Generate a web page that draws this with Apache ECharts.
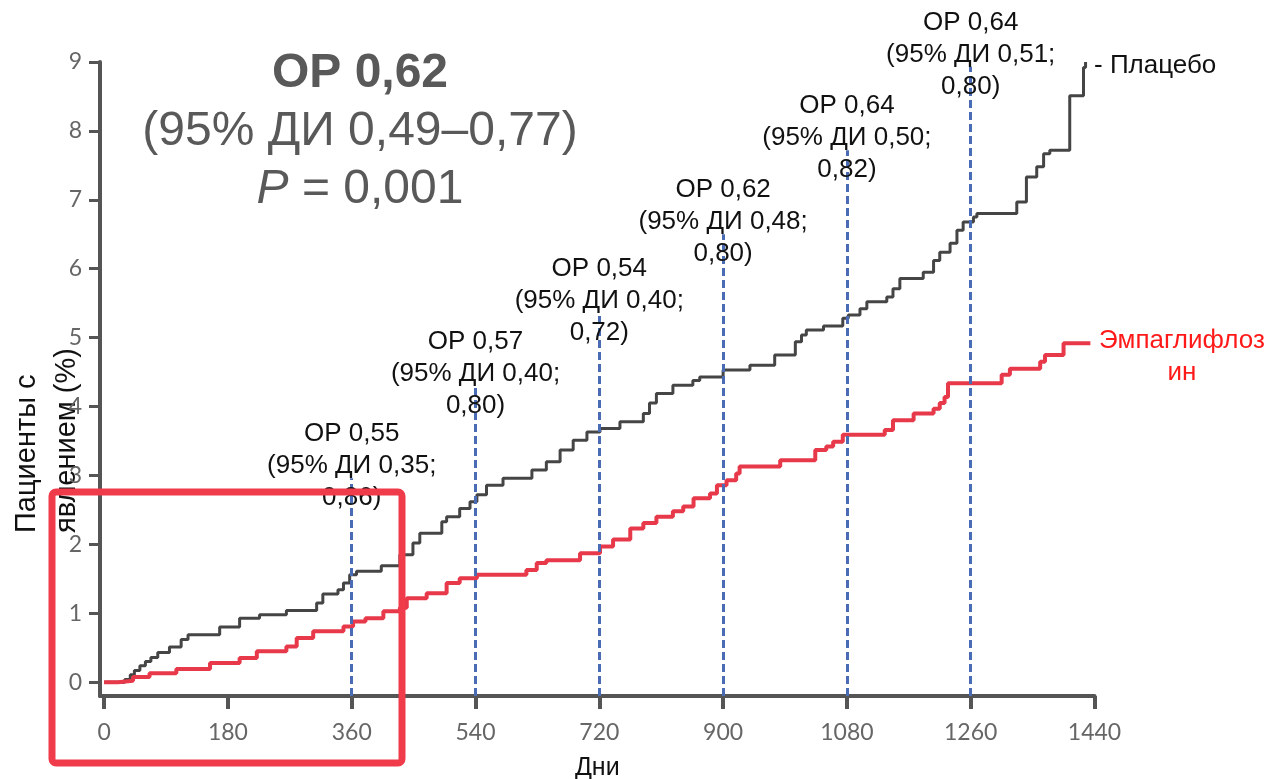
<!DOCTYPE html>
<html>
<head>
<meta charset="utf-8">
<script src="https://cdn.jsdelivr.net/npm/echarts@6/dist/echarts.min.js"></script>
<style>
  html, body { margin: 0; padding: 0; background: #fff; }
  #chart { width: 1268px; height: 779px; }
</style>
</head>
<body>
<div id="chart"></div>
<script>
// кумулятивная частота событий, % (день, значение)
var placebo = [
  [0,0],[25,0],[30,0.04],[38,0.11],[44,0.17],[52,0.24],[60,0.30],[68,0.36],[78,0.43],[95,0.51],
  [112,0.62],[122,0.69],[168,0.80],[197,0.93],[226,0.98],[265,1.04],[309,1.15],[318,1.28],[340,1.34],
  [348,1.44],[357,1.56],[367,1.61],[403,1.69],[430,1.85],[449,2.02],[459,2.16],[491,2.33],[498,2.40],
  [517,2.52],[532,2.62],[542,2.72],[556,2.86],[580,2.96],[622,3.08],[643,3.20],[663,3.37],[682,3.51],
  [702,3.63],[721,3.68],[750,3.78],[784,3.90],[793,4.05],[803,4.19],[827,4.31],[856,4.38],[866,4.43],
  [900,4.53],[939,4.60],[975,4.75],[1005,4.94],[1014,5.04],[1021,5.11],[1046,5.17],[1074,5.28],
  [1082,5.33],[1099,5.42],[1109,5.52],[1138,5.59],[1147,5.71],[1157,5.86],[1191,5.95],[1206,6.12],
  [1215,6.24],[1230,6.37],[1240,6.56],[1249,6.68],[1264,6.75],[1269,6.80],[1327,6.97],[1341,7.33],
  [1356,7.48],[1366,7.67],[1375,7.72],[1404,8.51],[1424,8.92],[1427,9.0]
];
var empa = [
  [0,0],[20,0.02],[42,0.075],[66,0.13],[105,0.19],[154,0.28],[197,0.35],[222,0.45],[265,0.52],
  [280,0.64],[304,0.74],[348,0.81],[362,0.88],[380,0.93],[406,1.03],[430,1.08],[440,1.22],[469,1.29],
  [498,1.44],[517,1.51],[542,1.56],[614,1.63],[629,1.73],[643,1.77],[692,1.87],[721,1.97],[740,2.07],
  [765,2.23],[784,2.31],[803,2.40],[827,2.48],[842,2.55],[857,2.67],[881,2.74],[891,2.86],[905,2.93],
  [919,3.03],[924,3.13],[983,3.22],[1034,3.37],[1050,3.42],[1060,3.49],[1074,3.59],[1135,3.66],
  [1147,3.80],[1177,3.90],[1206,3.97],[1215,4.05],[1222,4.14],[1227,4.34],[1305,4.46],[1317,4.55],
  [1361,4.65],[1368,4.75],[1395,4.92],[1434,4.92]
];

var hrDays = [360, 540, 720, 900, 1080, 1260];
var hrTops = [2.96, 4.3, 5.36, 6.5, 7.72, 8.93];
var hrValues = ['0,55', '0,57', '0,54', '0,62', '0,64', '0,64'];
var hrLow = ['0,35', '0,40', '0,40', '0,48', '0,50', '0,51'];
var hrHigh = ['0,86', '0,80', '0,72', '0,80', '0,82', '0,80'];

var xTicks = [0, 180, 360, 540, 720, 900, 1080, 1260, 1440];
var yTicks = [0, 1, 2, 3, 4, 5, 6, 7, 8, 9];

var axisColor = '#555';
var tickFont = { color: '#666', fontSize: 23, fontFamily: 'Lato' };

var hrLines = hrDays.map(function (d, i) {
  return [
    { coord: [d, -0.2] },
    {
      coord: [d, hrTops[i]],
      label: { formatter: 'ОР ' + hrValues[i] + '\n(95% ДИ ' + hrLow[i] + ';\n' + hrHigh[i] + ')' }
    }
  ];
});

var myChart = echarts.init(document.getElementById('chart'));
var option = {
  animation: false,
  grid: { left: 100, right: 173.5, top: 62, bottom: 83, outerBoundsMode: 'none', containLabel: false },
  xAxis: {
    type: 'value', min: -6, max: 1440,
    name: 'Дни', nameLocation: 'middle', nameGap: 60,
    nameTextStyle: { color: '#111', fontSize: 25, fontFamily: 'Liberation Sans' },
    axisLine: { onZero: false, lineStyle: { color: axisColor, width: 4 } },
    axisTick: { customValues: xTicks, length: 13, lineStyle: { color: axisColor, width: 4 } },
    axisLabel: Object.assign({
      customValues: xTicks, margin: 25,
      formatter: function (v) { return String(v); }
    }, tickFont),
    splitLine: { show: false }
  },
  yAxis: {
    type: 'value', min: -0.2, max: 9,
    axisLine: { show: true, onZero: false, lineStyle: { color: axisColor, width: 4 } },
    axisTick: { show: true, customValues: yTicks, length: 11, lineStyle: { color: axisColor, width: 3 } },
    axisLabel: Object.assign({ customValues: yTicks, margin: 18 }, tickFont),
    splitLine: { show: false }
  },
  series: [
    {
      name: 'Плацебо', type: 'line', step: 'end', data: placebo,
      symbol: 'none', lineStyle: { color: '#454545', width: 3 }
    },
    {
      name: 'Эмпаглифлозин', type: 'line', step: 'end', data: empa,
      symbol: 'none', lineStyle: { color: '#e8394a', width: 4 }
    },
    {
      type: 'line', data: [], z: 3,
      markLine: {
        silent: true, symbol: 'none', animation: false,
        lineStyle: { color: '#4a6cb4', width: 3, type: [8, 4] },
        label: {
          position: 'end', distance: -36, color: '#111', fontSize: 26,
          fontFamily: 'Liberation Sans', lineHeight: 32, align: 'center'
        },
        data: hrLines
      }
    }
  ],
  graphic: [
    {
      type: 'text', x: 360, y: 45,
      style: {
        text: '{b|ОР 0,62}\n{n|(95% ДИ 0,49–0,77)}\n{i|P}{n| = 0,001}',
        textAlign: 'center', textVerticalAlign: 'top',
        rich: {
          b: { fontSize: 48, fontWeight: 'bold', fontFamily: 'Liberation Sans', fill: '#595959', lineHeight: 58 },
          n: { fontSize: 48, fontFamily: 'Liberation Sans', fill: '#595959', lineHeight: 58 },
          i: { fontSize: 48, fontStyle: 'italic', fontFamily: 'Liberation Sans', fill: '#595959', lineHeight: 58 }
        }
      }
    },
    {
      type: 'text', x: 7, y: 533, rotation: Math.PI / 2,
      style: {
        text: 'Пациенты с\nявлением (%)', textAlign: 'left', textVerticalAlign: 'top',
        fontSize: 29, lineHeight: 40, fontFamily: 'Liberation Sans', fill: '#111'
      }
    },
    {
      type: 'text', x: 1094, y: 66,
      style: {
        text: '- Плацебо', textVerticalAlign: 'middle',
        fontSize: 26, fontFamily: 'Liberation Sans', fill: '#111'
      }
    },
    {
      type: 'text', x: 1182, y: 325,
      style: {
        text: 'Эмпаглифлоз\nин', textAlign: 'center', textVerticalAlign: 'top',
        fontSize: 26, lineHeight: 32, fontFamily: 'Liberation Sans', fill: '#ff1a1a'
      }
    },
    {
      type: 'rect', z: 100,
      shape: { x: 52, y: 492, width: 350, height: 271, r: 4 },
      style: { fill: 'none', stroke: '#ef3b4a', lineWidth: 7 }
    }
  ]
};
myChart.setOption(option);
</script>
</body>
</html>
